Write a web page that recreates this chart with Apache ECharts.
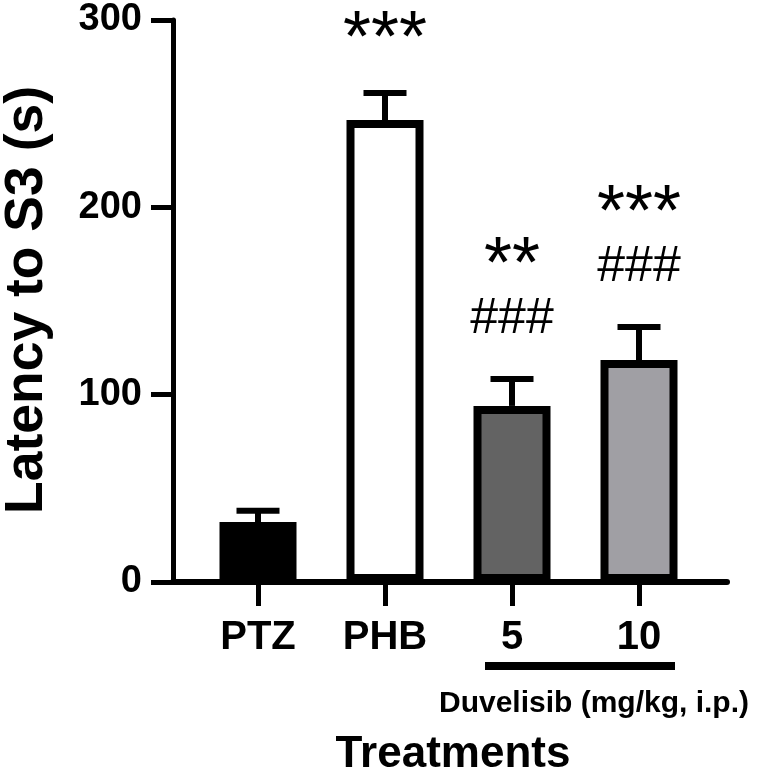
<!DOCTYPE html>
<html>
<head>
<meta charset="utf-8">
<script src="https://cdn.jsdelivr.net/npm/echarts@6/dist/echarts.min.js"></script>
<style>
html,body{margin:0;padding:0;background:#fff;}
#main{width:760px;height:782px;}
</style>
</head>
<body>
<div id="main"></div>
<script>
const categories = ['PTZ', 'PHB', '5', '10'];
const means = [32, 246.6, 94, 118.5];
const sems = [6, 14.4, 14.4, 17.6];
const fills = ['#000000', '#ffffff', '#636363', '#a09fa4'];
const stars = ['', '***', '**', '***'];
const hashes = ['', '', '###', '###'];
const yTicks = [0, 100, 200, 300];

const FONT = '"Liberation Sans", Arial, Helvetica, sans-serif';
const chart = echarts.init(document.getElementById('main'), null, {renderer: 'canvas'});

const barData = means.map((m, i) => ({
  value: m,
  itemStyle: {color: fills[i], borderColor: '#000', borderWidth: 8}
}));
const errData = means.map((m, i) => [i, m, sems[i]]);

const option = {
  animation: false,
  backgroundColor: '#ffffff',
  grid: [
    {left: 194.5, right: 57.5, top: 20, bottom: 200},
    {left: 173, right: 33, top: 20, bottom: 200}
  ],
  xAxis: [
    {
      type: 'category', gridIndex: 0, data: categories, boundaryGap: true,
      axisLine: {show: false},
      axisTick: {show: true, alignWithLabel: true, length: 24, lineStyle: {color: '#000', width: 5}},
      axisLabel: {color: '#000', fontSize: 40, fontWeight: 'bold', fontFamily: FONT, margin: 36}
    },
    {
      type: 'value', gridIndex: 1, min: 0, max: 1,
      axisLine: {show: true, lineStyle: {color: '#000', width: 6}},
      axisTick: {show: false}, axisLabel: {show: false}, splitLine: {show: false}
    }
  ],
  yAxis: [
    {
      type: 'value', gridIndex: 0, min: yTicks[0], max: yTicks[yTicks.length - 1], interval: 100,
      offset: 21.5,
      axisLine: {show: true, lineStyle: {color: '#000', width: 5}},
      axisTick: {show: true, length: 22, lineStyle: {color: '#000', width: 5}},
      axisLabel: {color: '#000', fontSize: 38, fontWeight: 'bold', fontFamily: FONT, margin: 31},
      splitLine: {show: false}
    },
    {type: 'value', gridIndex: 1, show: false, min: 0, max: 1}
  ],
  series: [
    {
      type: 'bar', xAxisIndex: 0, yAxisIndex: 0, data: barData, barWidth: 77, z: 3
    },
    {
      type: 'custom', xAxisIndex: 0, yAxisIndex: 0, data: errData, z: 4, clip: false,
      renderItem: function (params, api) {
        const i = params.dataIndex;
        const cat = api.value(0);
        const x = api.coord([cat, 0])[0];
        const yb = api.coord([cat, api.value(1)])[1];
        const yt = api.coord([cat, api.value(1) + api.value(2)])[1];
        const ch = [
          {type: 'line', shape: {x1: x, y1: yb, x2: x, y2: yt}, style: {stroke: '#000', lineWidth: 6}},
          {type: 'line', shape: {x1: x - 21.5, y1: yt, x2: x + 21.5, y2: yt}, style: {stroke: '#000', lineWidth: 6}}
        ];
        if (hashes[i]) {
          ch.push({type: 'text', style: {text: hashes[i], x: x, y: yt - 60, align: 'center', verticalAlign: 'middle',
            font: 'normal 50px ' + FONT, fill: '#000'}});
        }
        if (stars[i]) {
          const dy = hashes[i] ? 128 : 68;
          ch.push({type: 'text', style: {text: stars[i], x: x, y: yt - dy + 16, align: 'center', verticalAlign: 'middle',
            font: 'normal 72px ' + FONT, fill: '#000'}});
        }
        return {type: 'group', children: ch};
      }
    }
  ]
};
chart.setOption(option);

const x5 = chart.convertToPixel({xAxisIndex: 0}, 2);
const x10 = chart.convertToPixel({xAxisIndex: 0}, 3);
chart.setOption({
  graphic: [
    {type: 'line', shape: {x1: x5 - 27, y1: 666, x2: x10 + 36, y2: 666}, style: {stroke: '#000', lineWidth: 8}},
    {type: 'text', style: {text: 'Duvelisib (mg/kg, i.p.)', x: 594, y: 704, align: 'center', verticalAlign: 'middle',
      font: 'bold 30px ' + FONT, fill: '#000'}},
    {type: 'text', style: {text: 'Treatments', x: 453, y: 755, align: 'center', verticalAlign: 'middle',
      font: 'bold 44px ' + FONT, fill: '#000'}},
    {type: 'text', x: 27, y: 300, rotation: Math.PI / 2,
      style: {text: 'Latency to S3 (s)', x: 0, y: 0, align: 'center', verticalAlign: 'middle',
      font: 'bold 53.5px ' + FONT, fill: '#000'}}
  ]
});
</script>
</body>
</html>
